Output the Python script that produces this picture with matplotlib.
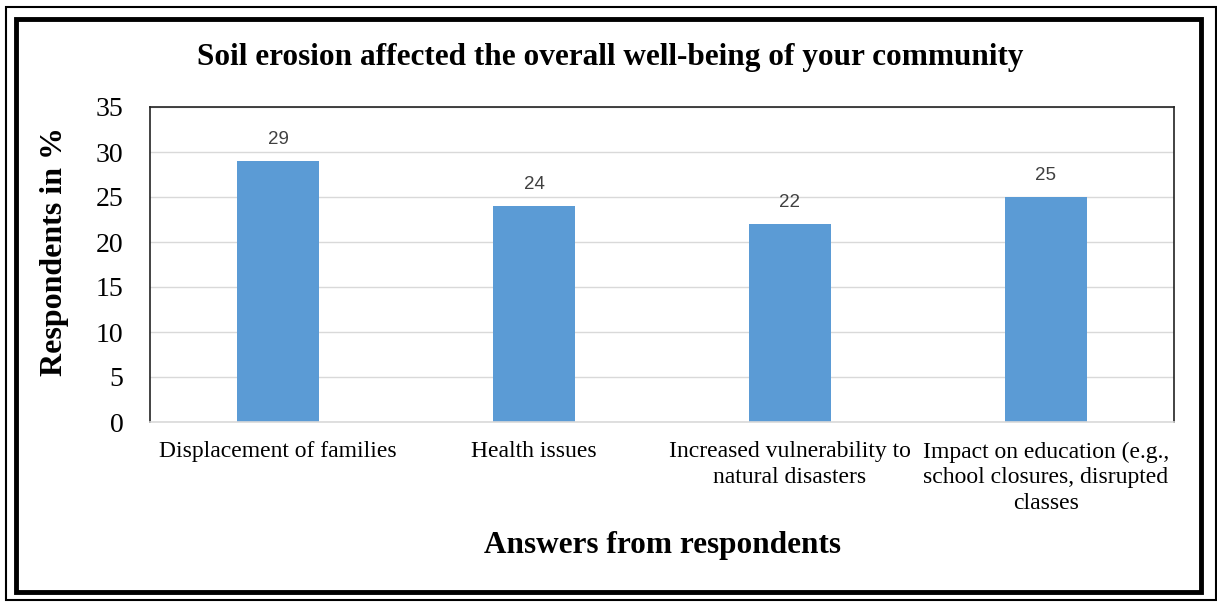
import matplotlib
matplotlib.use('Agg')
import matplotlib.pyplot as plt
from matplotlib.patches import Rectangle

categories = ['Displacement of families', 'Health issues',
              'Increased vulnerability to\nnatural disasters',
              'Impact on education (e.g.,\nschool closures, disrupted\nclasses']
values = [29, 24, 22, 25]
yTicks = [0, 5, 10, 15, 20, 25, 30, 35]

W, H = 1217, 604
fig = plt.figure(figsize=(W / 100, H / 100), dpi=100)

def fx(px):
    return px / W

def fy(py):
    return 1 - py / H

ax = fig.add_axes([fx(150), fy(422), fx(1174) - fx(150), fy(107) - fy(422)])

xPos = range(len(categories))
bars = ax.bar(xPos, values, width=0.32, color='#5B9BD5', zorder=3)
for b, v in zip(bars, values):
    ax.text(b.get_x() + b.get_width() / 2, v + 1.4, str(v), ha='center', va='bottom',
            fontsize=13.5, color='#404040', family='Liberation Sans')

ax.set_xlim(-0.5, len(categories) - 0.5)
ax.set_ylim(0, 35)
ax.set_yticks(yTicks)
ax.set_yticklabels([str(t) for t in yTicks], family='Liberation Serif', fontsize=20)
ax.set_xticks(list(xPos))
ax.set_xticklabels(categories, family='Liberation Serif', fontsize=17, linespacing=1.3)
ax.tick_params(axis='both', length=0)
ax.tick_params(axis='y', pad=19)
ax.tick_params(axis='x', pad=14)
ax.yaxis.grid(True, color='#d9d9d9', linewidth=1, zorder=0)

for side in ['left', 'top', 'right']:
    ax.spines[side].set_color('#222222')
    ax.spines[side].set_linewidth(1.2)
ax.spines['bottom'].set_color('#d9d9d9')
ax.spines['bottom'].set_linewidth(1.2)
ax.spines['bottom'].set_zorder(4)

fig.text(fx(610), fy(57), 'Soil erosion affected the overall well-being of your community',
         ha='center', va='center', family='Liberation Serif', fontweight='bold', fontsize=22.5)
fig.text(fx(55), fy(252), 'Respondents in %', rotation=90, ha='center', va='center',
         family='Liberation Serif', fontweight='bold', fontsize=23)
fig.text(fx(662), fy(545), 'Answers from respondents', ha='center', va='center',
         family='Liberation Serif', fontweight='bold', fontsize=22.5)

# frames around the chart
fig.patches.append(Rectangle((fx(6), fy(600)), fx(1216) - fx(6), fy(7) - fy(600),
                             transform=fig.transFigure, fill=False, edgecolor='black', linewidth=1.5))
fig.patches.append(Rectangle((fx(16), fy(592)), fx(1201) - fx(16), fy(19) - fy(592),
                             transform=fig.transFigure, fill=False, edgecolor='black', linewidth=3.5))

plt.savefig('out.png', dpi=100)
